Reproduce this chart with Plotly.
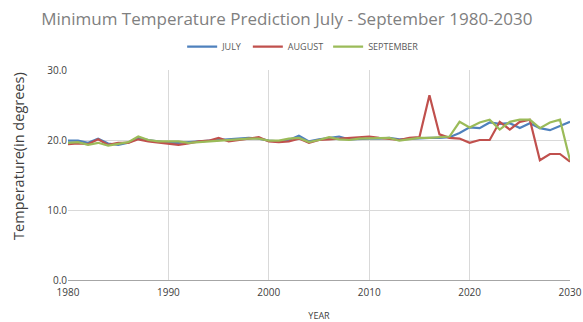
import plotly.graph_objects as go

years = list(range(1980, 2031))
july = [19.9, 19.9, 19.6, 20.2, 19.5, 19.3, 19.6, 20.3, 20.0, 19.8,
        19.6, 19.6, 19.7, 19.8, 19.9, 20.0, 20.2, 20.3, 20.3, 20.2,
        19.9, 19.8, 20.0, 20.6, 19.8, 20.1, 20.3, 20.5, 20.1, 20.2,
        20.2, 20.2, 20.3, 20.1, 20.2, 20.3, 20.3, 20.3, 20.4, 21.0,
        21.8, 21.7, 22.5, 22.3, 22.4, 21.7, 22.4, 21.7, 21.4, 22.0, 22.6]
august = [19.4, 19.5, 19.4, 20.1, 19.3, 19.6, 19.6, 20.1, 19.8, 19.6,
          19.5, 19.3, 19.5, 19.8, 19.9, 20.3, 19.8, 20.0, 20.3, 20.4,
          19.8, 19.7, 19.8, 20.2, 19.6, 20.0, 20.1, 20.2, 20.2, 20.4,
          20.5, 20.3, 20.2, 20.0, 20.3, 20.4, 26.4, 20.8, 20.3, 20.2,
          19.6, 20.0, 20.0, 22.6, 21.5, 22.6, 22.9, 17.1, 18.0, 18.0, 16.9]
september = [19.6, 19.7, 19.3, 19.6, 19.2, 19.5, 19.7, 20.5, 20.0, 19.8,
             19.8, 19.8, 19.6, 19.7, 19.8, 20.0, 20.0, 20.1, 20.2, 20.2,
             19.9, 19.9, 20.2, 20.3, 19.7, 20.0, 20.4, 20.1, 20.0, 20.2,
             20.2, 20.2, 20.3, 19.9, 20.1, 20.3, 20.3, 20.4, 20.5, 22.6,
             21.8, 22.5, 22.9, 21.5, 22.6, 22.9, 22.9, 21.7, 22.5, 22.9, 17.1]
x_ticks = [1980, 1990, 2000, 2010, 2020, 2030]
y_ticks = [0, 10, 20, 30]

fig = go.Figure()
for name, vals, col in [("JULY", july, "#4F81BD"),
                        ("AUGUST", august, "#C0504D"),
                        ("SEPTEMBER", september, "#9BBB59")]:
    fig.add_trace(go.Scatter(x=years, y=vals, name=name, mode="lines",
                             line=dict(color=col, width=2.2)))

fig.update_layout(
    width=583, height=322,
    margin=dict(l=68, r=13, t=70, b=42, autoexpand=False),
    paper_bgcolor="white", plot_bgcolor="white",
    font=dict(family="Open Sans, Liberation Sans, sans-serif", color="#595959", size=10),
    title=dict(text="Minimum Temperature Prediction July - September 1980-2030",
               x=0.492, xanchor="center", y=0.94, yanchor="middle",
               font=dict(size=17, color="#808080")),
    legend=dict(orientation="h", xref="container", x=0.52, xanchor="center",
                yref="container", y=0.855, yanchor="middle",
                font=dict(size=9, color="#595959"), itemwidth=30),
    xaxis=dict(range=[1980, 2030], tickvals=x_ticks, showgrid=True,
               gridcolor="#d9d9d9", showline=True, linecolor="#a6a6a6",
               zeroline=False, ticks="", automargin=False, ticklabelstandoff=3,
               tickfont=dict(size=10, color="#404040"),
               title=dict(text="YEAR", font=dict(size=9, color="#404040"), standoff=22)),
    yaxis=dict(range=[0, 30], tickvals=y_ticks, tickformat=".1f", showgrid=True,
               gridcolor="#d9d9d9", zeroline=False, ticks="", automargin=False,
               tickfont=dict(size=10, color="#404040")),
    annotations=[dict(text="Temperature(in degrees)", textangle=-90,
                      xref="paper", yref="paper", x=-0.1, y=0.59,
                      xanchor="center", yanchor="middle", showarrow=False,
                      font=dict(size=14.5, color="#404040"))],
)
fig.write_html("out.html", config={"displayModeBar": False},
               post_script="document.body.style.margin='0';")
